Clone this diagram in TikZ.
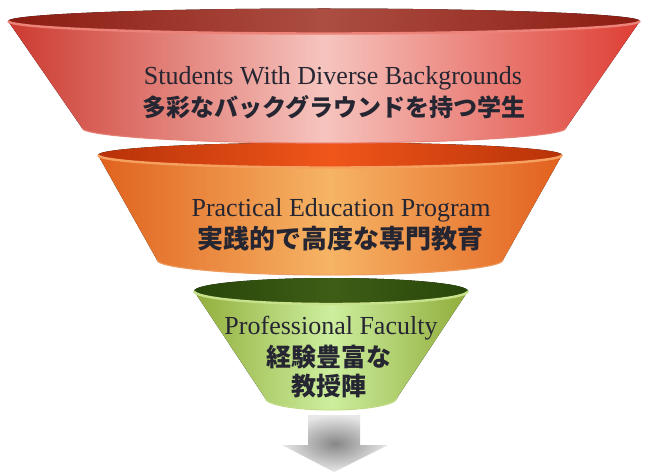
\documentclass[tikz,border=0pt]{standalone}
\usepackage{fontspec}
\setmainfont{Liberation Serif}
\newfontfamily\jp{Noto Sans CJK JP}
\definecolor{rL}{RGB}{204,58,48}
\definecolor{rM}{RGB}{246,196,190}
\definecolor{rR}{RGB}{222,62,52}
\definecolor{rA}{RGB}{140,28,18}
\definecolor{rB}{RGB}{172,78,66}
\definecolor{rE}{RGB}{236,130,120}
\definecolor{oL}{RGB}{224,98,30}
\definecolor{oM}{RGB}{246,180,101}
\definecolor{oR}{RGB}{226,96,30}
\definecolor{oA}{RGB}{184,50,8}
\definecolor{oB}{RGB}{240,86,26}
\definecolor{oE}{RGB}{246,160,96}
\definecolor{gL}{RGB}{146,174,60}
\definecolor{gM}{RGB}{205,238,158}
\definecolor{gR}{RGB}{144,172,58}
\definecolor{gA}{RGB}{40,70,10}
\definecolor{gB}{RGB}{62,94,22}
\definecolor{gE}{RGB}{200,226,140}
\definecolor{tc}{RGB}{38,38,50}
\definecolor{arrIn}{RGB}{135,135,135}
\definecolor{arrOut}{RGB}{232,232,232}
% #1 cx, #2 top y, #3 top rx, #4 top ry, #5 bottom y, #6 bottom rx, #7 bottom ry, #8 colour prefix
\newcommand\myfunnel[8]{%
  \fill[left color=#8L, right color=#8R, middle color=#8M]
    (#1-#3,#2) -- (#1-#6,#5)
    arc[start angle=180,end angle=360,x radius=#6,y radius=#7]
    -- (#1+#3,#2)
    arc[start angle=0,end angle=-180,x radius=#3,y radius=#4] -- cycle;
  \draw[#8E, line width=1.2pt, opacity=0.8]
    (#1-#6,#5) arc[start angle=180,end angle=360,x radius=#6,y radius=#7];
  \fill[left color=#8A, right color=#8A, middle color=#8B]
    (#1,#2) ellipse[x radius=#3, y radius=#4];
  \draw[#8E, line width=2.4pt]
    (#1+#3,#2) arc[start angle=0,end angle=-180,x radius=#3,y radius=#4];
}
\tikzset{
  entxt/.style={text=tc, inner sep=0pt, anchor=base, font=\fontsize{26}{30}\selectfont},
  jptxt/.style={text=tc, inner sep=0pt, font=\jp\bfseries\fontsize{24}{28}\selectfont},
}
\begin{document}
\begin{tikzpicture}[x=1pt,y=1pt]
\useasboundingbox (0,0) rectangle (646,472);
% arrow
\shade[inner color=arrIn, outer color=arrOut]
  (308,57) -- (360,57) -- (360,27) -- (388,27) -- (334,0) -- (282,27) -- (308,27) -- cycle;
% funnels
\myfunnel{331}{181}{137}{13}{74}{66}{12}{g}
\myfunnel{330}{317}{232}{12.5}{212}{173}{15}{o}
\myfunnel{324}{451}{316}{12.5}{344}{242}{15}{r}
% texts
\node[entxt] (t1) at (333,387) {Students With Diverse Backgrounds};
\node[jptxt] (j1) at (334,365) {多彩なバックグラウンドを持つ学生};
\node[entxt] (t2) at (341,255) {Practical Education Program};
\node[jptxt, font=\jp\bfseries\fontsize{26}{30}\selectfont] (j2) at (340,233) {実践的で高度な専門教育};
\node[entxt] (t3) at (331,137) {Professional Faculty};
\node[jptxt, font=\jp\bfseries\fontsize{25}{28}\selectfont] (j3) at (329,115) {経験豊富な};
\node[jptxt, font=\jp\bfseries\fontsize{25}{28}\selectfont] (j4) at (329,86) {教授陣};
\end{tikzpicture}
\end{document}
